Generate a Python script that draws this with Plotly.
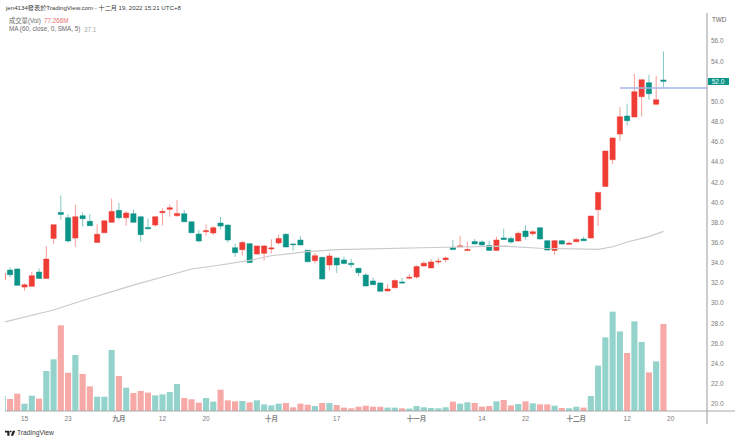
import plotly.graph_objects as go

# bars run from -1 (cut off at the left edge) to 90
bars = list(range(-1, 91))

opens = [32.36, 33.29, 33.39, 31.60, 31.67, 33.09, 32.46, 36.43, 39.01, 38.48, 36.46, 38.68, 38.12,
         36.03, 36.99, 38.02, 39.21, 38.48, 38.88, 38.58, 37.52, 37.75, 38.98, 39.31, 38.68, 38.88,
         38.08, 36.86, 37.09, 36.96, 37.95, 37.75, 35.51, 35.31, 35.91, 34.88, 34.95, 35.38, 35.98,
         36.84, 35.88, 36.27, 35.25, 34.22, 34.55, 33.79, 34.49, 34.29, 33.96, 33.46, 32.80, 32.21,
         32.01, 31.21, 31.54, 32.11, 32.47, 32.60, 33.69, 33.50, 34.09, 34.32, 35.51, 35.61, 35.22,
         36.11, 36.08, 35.72, 35.24, 36.47, 36.43, 36.17, 37.16, 36.90, 37.49, 36.20, 35.24, 36.20,
         35.84, 36.10, 36.37, 36.47, 39.28, 41.59, 44.24, 46.78, 48.57, 48.47, 50.49, 51.88, 49.73,
         52.14]
highs = [33.00, 33.55, 33.45, 31.97, 33.12, 33.45, 35.67, 37.79, 40.70, 38.81, 39.77, 39.01, 38.84,
         37.82, 38.22, 40.37, 39.97, 39.14, 39.31, 38.61, 38.41, 38.65, 39.41, 39.80, 40.23, 39.24,
         38.08, 37.26, 37.82, 37.65, 38.55, 37.82, 35.93, 36.17, 35.94, 35.68, 35.78, 36.34, 36.80,
         36.94, 35.94, 36.67, 35.28, 35.02, 34.59, 34.95, 34.52, 34.62, 34.39, 33.53, 33.00, 32.54,
         32.07, 31.91, 32.37, 32.50, 32.90, 33.76, 34.16, 34.36, 34.49, 34.62, 36.27, 36.67, 36.11,
         36.37, 36.24, 36.20, 36.60, 37.39, 36.60, 37.13, 37.75, 37.23, 37.52, 36.27, 36.27, 36.27,
         36.13, 36.43, 36.60, 38.65, 40.99, 45.10, 46.42, 49.46, 49.79, 52.77, 52.17, 52.67, 52.54,
         54.98]
lows = [32.20, 32.56, 31.70, 31.24, 31.64, 32.43, 32.43, 35.90, 38.28, 36.03, 35.60, 37.59, 37.65,
        36.00, 36.99, 38.02, 38.28, 37.69, 37.99, 36.10, 37.32, 37.59, 37.72, 38.58, 38.58, 38.05,
        36.96, 36.03, 36.70, 36.76, 37.32, 36.03, 34.61, 34.71, 33.99, 34.85, 34.22, 34.95, 35.81,
        35.55, 35.22, 35.74, 34.06, 33.96, 32.37, 33.23, 33.00, 33.89, 33.53, 32.67, 31.68, 31.81,
        31.15, 31.21, 31.48, 31.97, 32.37, 32.44, 33.66, 33.46, 33.86, 34.06, 35.28, 35.58, 35.18,
        35.84, 35.74, 35.21, 35.21, 36.27, 35.90, 36.13, 36.33, 36.70, 36.33, 35.24, 34.78, 35.84,
        35.80, 36.07, 36.17, 36.43, 37.66, 41.56, 43.81, 46.09, 47.61, 48.44, 48.50, 50.19, 49.69,
        51.41]
closes = [32.96, 32.83, 31.77, 31.83, 32.73, 32.46, 34.38, 37.79, 38.81, 36.17, 38.58, 38.38, 37.69,
          36.83, 38.18, 39.11, 38.48, 38.94, 38.02, 36.80, 37.39, 38.58, 39.11, 39.47, 38.91, 38.08,
          36.99, 36.17, 37.19, 37.49, 37.65, 36.27, 35.01, 36.03, 34.03, 35.68, 35.68, 35.48, 36.41,
          35.58, 35.81, 35.78, 34.12, 34.72, 32.40, 34.69, 33.79, 33.93, 33.83, 33.03, 31.71, 31.84,
          31.18, 31.41, 32.24, 32.01, 32.57, 33.63, 33.96, 34.09, 34.16, 34.49, 35.32, 35.68, 35.32,
          35.88, 35.78, 35.24, 36.27, 36.33, 36.07, 36.93, 36.60, 37.09, 36.37, 35.27, 36.20, 35.87,
          35.94, 36.33, 36.20, 38.65, 40.99, 45.10, 46.39, 48.50, 48.11, 50.98, 52.17, 50.78, 50.19,
          52.01]
volumes = [13.3, 10.7, 15.4, 6.5, 13.6, 11.0, 35.5, 45.9, 76.1, 34.0, 49.7, 32.9, 21.9, 12.7, 12.7,
           54.2, 31.1, 20.7, 16.0, 17.8, 16.3, 13.9, 14.8, 16.9, 24.0, 11.5, 10.4, 7.4, 11.5, 8.3,
           18.9, 9.5, 8.6, 8.9, 7.7, 9.5, 5.9, 5.0, 6.5, 7.1, 3.3, 6.5, 5.6, 4.4, 7.1, 7.1, 5.3, 3.0,
           2.4, 3.8, 4.7, 3.8, 3.8, 3.0, 3.0, 2.4, 2.1, 4.4, 3.3, 2.7, 2.4, 3.3, 8.3, 6.5, 7.7, 7.1,
           3.9, 4.4, 8.6, 9.8, 5.0, 6.2, 8.6, 6.8, 5.9, 5.9, 4.7, 2.7, 2.4, 3.8, 3.0, 13.3, 40.3,
           65.4, 88.2, 70.7, 51.5, 79.6, 61.3, 34.3, 44.1, 77.27]

# SMA read at the places where the line bends
ma_bars = [-1, 6, 10, 17, 22, 25, 29, 33, 36, 41, 45, 50, 55, 60, 68, 73, 81, 83, 85, 88, 90]
ma_values = [28.1, 29.33, 30.27, 31.8, 32.8, 33.39, 33.79, 34.24, 34.71, 35.11, 35.31, 35.41, 35.48,
             35.55, 35.67, 35.45, 35.35, 35.6, 36.07, 36.6, 37.13]

drawn_line_price = 51.35
drawn_line_start = 84

x_tick_bars = [2, 8, 15, 21, 27, 36, 45, 56, 65, 71, 78, 85, 91]
x_tick_labels = ["15", "23", "<b>九月</b>", "12", "20", "<b>十月</b>", "17", "<b>十一月</b>", "14", "22",
                 "<b>十二月</b>", "12", "20"]
y_ticks = [20, 22, 24, 26, 28, 30, 32, 34, 36, 38, 40, 42, 44, 46, 48, 50, 54, 56]

FONT = "Liberation Sans, Noto Sans CJK TC, sans-serif"
RED = "#ef3d36"
GREEN = "#0b9488"

# plot area in page pixels
LEFT, RIGHT, TOP, BOTTOM = 5, 707, 13, 411


def px(x):
    return (x - LEFT) / (RIGHT - LEFT)


def py(y):
    return (BOTTOM - y) / (BOTTOM - TOP)


# volume colours are the other way round from the candles
vol_colors = ["#93d3cb" if c > o else "#f7a9a7" for o, c in zip(opens, closes)]

fig = go.Figure()

fig.add_trace(go.Bar(x=bars, y=volumes, yaxis="y2", width=0.84,
                     marker=dict(color=vol_colors, line_width=0)))

fig.add_trace(go.Scatter(x=ma_bars, y=ma_values, mode="lines",
                         line=dict(color="#c9c9c9", width=1.2)))

fig.add_trace(go.Candlestick(x=bars, open=opens, high=highs, low=lows, close=closes,
                             increasing=dict(fillcolor=RED, line=dict(color="rgba(239,61,54,0.5)", width=1)),
                             decreasing=dict(fillcolor=GREEN, line=dict(color="rgba(11,148,136,0.5)", width=1)),
                             whiskerwidth=0))


def label(x, y, text, color, size=6.3):
    fig.add_annotation(xref="paper", yref="paper", x=px(x), y=py(y), text=text, showarrow=False,
                       xanchor="left", yanchor="middle", borderpad=0, borderwidth=0,
                       font=dict(family=FONT, size=size, color=color))


label(5, 7.5, "jen4134發表於TradingView.com - 十二月 19, 2022 15:21 UTC+8", "#3a3a3a", 6.15)
label(9, 20.7, "成交量(Vol)", "#6a6a6a")
label(43.5, 20.7, "77.266M", "#ec7070")
label(9, 29.3, "MA (60, close, 0, SMA, 5)", "#6a6a6a")
label(84, 29.3, "37.1", "#a8a8a8")
label(712, 19.5, "TWD", "#666666")
label(17, 433.2, "TradingView", "#3c3c3c", 6.7)

# last price tag on the scale
fig.add_annotation(xref="paper", yref="y", x=px(707.8), y=closes[-1], text="52.0", showarrow=False,
                   xanchor="left", yanchor="middle", align="center", width=20.5, height=7.4,
                   bgcolor=GREEN, borderpad=0, borderwidth=0,
                   font=dict(family=FONT, size=6.5, color="white"))

logo = (f"M {px(5)},{py(430.7)} L {px(9.5)},{py(430.7)} L {px(9.5)},{py(435.7)} L {px(7.3)},{py(435.7)} "
        f"L {px(7.3)},{py(432.4)} L {px(5)},{py(432.4)} Z "
        f"M {px(12.8)},{py(430.7)} L {px(15.2)},{py(430.7)} L {px(13.2)},{py(435.7)} L {px(10.8)},{py(435.7)} Z "
        f"M {px(10)},{py(430.8)} L {px(11.5)},{py(430.8)} L {px(11.5)},{py(432.3)} L {px(10)},{py(432.3)} Z")

fig.update_layout(
    width=740, height=442,
    margin=dict(l=LEFT, r=740 - RIGHT, t=TOP, b=442 - BOTTOM, pad=0),
    paper_bgcolor="white", plot_bgcolor="white",
    showlegend=False, barmode="overlay", boxgap=0.1, boxgroupgap=0.2,
    font=dict(family=FONT, size=6.5, color="#7c7c7c"),
    xaxis=dict(range=[-0.69, 96], showgrid=False, zeroline=False, showline=False, ticks="",
               rangeslider_visible=False, tickmode="array", tickvals=x_tick_bars,
               ticktext=x_tick_labels, tickangle=0, ticklabelstandoff=2),
    yaxis=dict(range=[19.306, 58.79], side="right", showgrid=False, zeroline=False, showline=False,
               ticks="", tickmode="array", tickvals=y_ticks, tickformat=".1f", ticklabelstandoff=3),
    yaxis2=dict(range=[0, 353.4], overlaying="y", visible=False),
    shapes=[
        dict(type="line", xref="x", yref="y", x0=drawn_line_start, x1=96, y0=drawn_line_price,
             y1=drawn_line_price, line=dict(color="#a5b4e8", width=1.4)),
        dict(type="line", xref="paper", yref="paper", x0=0, x1=px(735), y0=0, y1=0,
             line=dict(color="#a9a9a9", width=1)),
        dict(type="line", xref="paper", yref="paper", x0=1, x1=1, y0=py(424), y1=1,
             line=dict(color="#9a9a9a", width=1)),
        dict(type="path", xref="paper", yref="paper", path=logo, fillcolor="#222222", line_width=0),
    ],
)

# the browser's default body margin would push the chart off the page
fig.write_html("out.html", config=dict(displayModeBar=False),
               post_script="document.body.style.margin='0';")
